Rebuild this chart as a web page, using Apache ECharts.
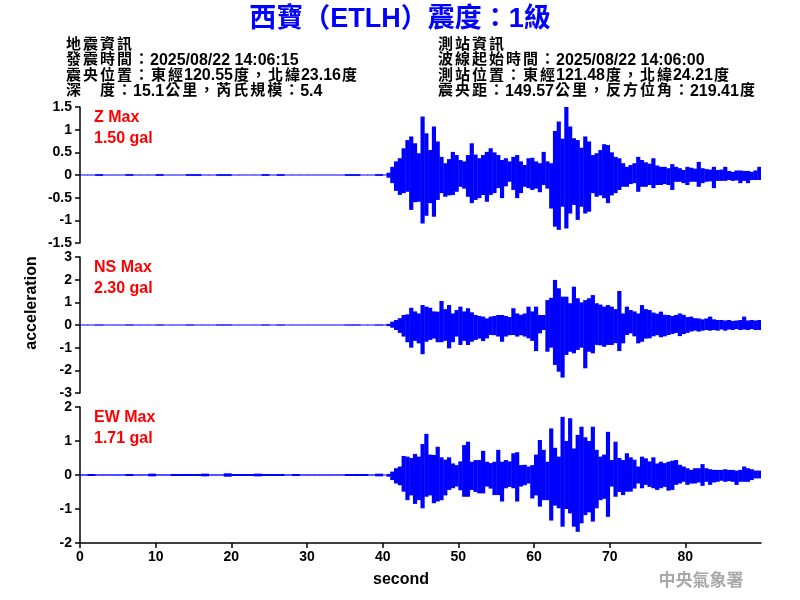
<!DOCTYPE html>
<html>
<head>
<meta charset="utf-8">
<script src="https://cdn.jsdelivr.net/npm/echarts@6/dist/echarts.min.js"></script>
<style>html,body{margin:0;padding:0;background:#fff}#c{width:800px;height:600px}</style>
</head>
<body>
<div id="c"></div>
<script>
// ---------- data ----------
const xTicks = [0, 10, 20, 30, 40, 50, 60, 70, 80];
const channelNames = ['Z Max', 'NS Max', 'EW Max'];
const channelPeaks = ['1.50 gal', '2.30 gal', '1.71 gal'];
const yRanges = [[-1.5, 1.5, 0.5], [-3, 3, 1], [-2, 2, 1]];

// pre-event noise amplitude, one value per second (0..39 s)
const zQuiet = [0.01,0.01,0.02,0.01,0.01,0.01,0.02,0.01,0.01,0.01,0.02,0.01,0.01,0.01,0.02,0.02,0.01,0.01,0.02,0.02,0.01,0.01,0.01,0.01,0.02,0.01,0.02,0.01,0.01,0.01,0.01,0.01,0.01,0.01,0.01,0.02,0.02,0.01,0.01,0.02];
const nsQuiet = [0.02,0.02,0.03,0.02,0.02,0.02,0.03,0.02,0.02,0.02,0.03,0.02,0.02,0.02,0.03,0.02,0.02,0.02,0.03,0.03,0.02,0.02,0.02,0.02,0.03,0.02,0.03,0.02,0.02,0.02,0.02,0.02,0.02,0.02,0.02,0.03,0.03,0.02,0.02,0.03];
const ewQuiet = [0.02,0.03,0.02,0.02,0.02,0.02,0.03,0.02,0.02,0.04,0.02,0.02,0.03,0.03,0.03,0.03,0.04,0.02,0.02,0.05,0.03,0.03,0.03,0.04,0.03,0.03,0.03,0.02,0.03,0.02,0.02,0.02,0.02,0.02,0.02,0.03,0.03,0.03,0.02,0.04];

// event: per 0.5 s bin from 40.0 s, positive and negative peaks
const eventStart = 40;
const binSec = 0.5;
const zUp = [0.01,0.05,0.18,0.30,0.37,0.59,0.77,0.85,0.70,0.48,
  1.29,0.92,0.55,1.07,0.74,0.40,0.26,0.35,0.51,0.44,
  0.33,0.30,0.44,0.70,0.45,0.37,0.44,0.51,0.59,0.50,
  0.44,0.33,0.37,0.30,0.40,0.44,0.30,0.22,0.37,0.38,
  0.30,0.26,0.51,0.30,0.26,0.97,1.18,0.80,1.51,1.07,
  0.81,0.77,0.60,0.85,0.74,0.44,0.48,0.55,0.68,0.66,
  0.50,0.40,0.37,0.26,0.18,0.22,0.26,0.40,0.33,0.28,
  0.25,0.37,0.21,0.18,0.18,0.15,0.24,0.18,0.15,0.11,
  0.18,0.16,0.14,0.29,0.15,0.13,0.12,0.18,0.11,0.12,
  0.18,0.09,0.07,0.10,0.10,0.09,0.09,0.07,0.10,0.18];
const zLo = [-0.01,-0.06,-0.18,-0.35,-0.44,-0.40,-0.37,-0.77,-0.60,-0.59,
  -1.07,-0.90,-0.62,-0.92,-0.55,-0.40,-0.48,-0.45,-0.44,-0.37,
  -0.26,-0.30,-0.48,-0.62,-0.55,-0.51,-0.44,-0.59,-0.44,-0.40,
  -0.29,-0.51,-0.25,-0.15,-0.33,-0.51,-0.40,-0.26,-0.29,-0.33,
  -0.30,-0.38,-0.22,-0.30,-0.74,-1.14,-1.21,-0.70,-1.18,-0.85,
  -0.66,-0.99,-0.70,-0.85,-0.81,-0.40,-0.48,-0.45,-0.51,-0.62,
  -0.45,-0.40,-0.33,-0.26,-0.26,-0.20,-0.18,-0.37,-0.26,-0.26,
  -0.22,-0.29,-0.22,-0.22,-0.20,-0.22,-0.33,-0.15,-0.15,-0.18,
  -0.22,-0.15,-0.15,-0.26,-0.18,-0.15,-0.14,-0.29,-0.13,-0.13,
  -0.13,-0.11,-0.13,-0.12,-0.18,-0.13,-0.18,-0.11,-0.11,-0.11];
const nsUp = [0.01,0.05,0.15,0.22,0.30,0.44,0.47,0.76,0.60,0.51,
  0.88,0.81,0.76,0.60,0.59,1.06,0.70,0.88,0.51,0.66,
  0.81,0.60,0.74,0.56,0.44,0.40,0.37,0.29,0.37,0.40,
  0.44,0.44,0.40,0.35,0.74,0.51,0.45,0.51,0.81,0.60,
  0.81,0.44,0.44,1.10,1.20,1.99,1.62,1.25,1.25,0.96,
  1.69,1.18,1.00,1.10,1.18,1.32,0.96,0.90,0.81,0.88,
  0.81,0.70,1.50,0.51,0.81,0.66,0.60,0.51,0.88,0.70,
  0.66,0.55,0.50,0.59,0.45,0.44,0.40,0.44,0.51,0.45,
  0.35,0.37,0.30,0.29,0.25,0.29,0.37,0.25,0.22,0.22,
  0.20,0.22,0.18,0.20,0.22,0.37,0.20,0.22,0.20,0.22];
const nsLo = [-0.01,-0.05,-0.12,-0.22,-0.35,-0.51,-0.76,-1.00,-0.70,-0.81,
  -1.29,-0.74,-0.66,-0.60,-0.76,-0.76,-0.70,-1.03,-0.76,-0.51,
  -0.88,-0.70,-0.88,-0.74,-0.66,-0.60,-0.71,-0.59,-0.44,-0.45,
  -0.51,-0.74,-0.51,-0.45,-0.44,-0.51,-0.45,-0.51,-0.59,-0.70,
  -1.15,-0.37,-0.22,-1.18,-1.00,-1.76,-2.06,-2.32,-1.32,-1.18,
  -1.25,-1.10,-1.00,-1.91,-1.18,-1.25,-0.88,-0.90,-0.96,-0.88,
  -0.88,-0.80,-1.15,-0.81,-0.44,-0.37,-0.50,-0.81,-0.74,-0.60,
  -0.59,-0.50,-0.45,-0.54,-0.50,-0.44,-0.40,-0.35,-0.49,-0.40,
  -0.35,-0.29,-0.25,-0.29,-0.25,-0.22,-0.25,-0.22,-0.25,-0.20,
  -0.25,-0.20,-0.22,-0.18,-0.22,-0.20,-0.22,-0.18,-0.22,-0.22];
const ewUp = [0.01,0.03,0.10,0.20,0.25,0.56,0.54,0.50,0.62,0.54,
  0.91,1.21,0.60,0.59,0.83,0.52,0.45,0.52,0.34,0.29,
  0.40,0.88,0.98,0.39,0.44,0.44,0.71,0.39,0.35,0.39,
  0.74,0.39,0.44,0.40,0.64,0.67,0.29,0.30,0.25,0.29,
  0.60,1.03,0.74,0.39,1.37,0.80,0.54,1.71,1.00,1.67,
  0.78,1.18,1.42,1.11,1.00,1.42,0.74,0.54,0.60,1.27,
  0.44,0.98,0.50,0.44,0.64,0.52,0.45,0.25,0.54,0.49,
  0.40,0.52,0.34,0.39,0.35,0.39,0.42,0.44,0.30,0.25,
  0.20,0.15,0.20,0.20,0.32,0.20,0.17,0.15,0.15,0.15,
  0.17,0.15,0.15,0.13,0.15,0.25,0.20,0.17,0.13,0.13];
const ewLo = [-0.01,-0.05,-0.15,-0.25,-0.30,-0.49,-0.74,-0.60,-0.85,-0.74,
  -0.98,-0.64,-0.60,-0.83,-0.78,-0.74,-0.60,-0.44,-0.39,-0.34,
  -0.45,-0.64,-0.64,-0.44,-0.50,-0.54,-0.54,-0.34,-0.40,-0.59,
  -0.59,-0.78,-0.39,-0.35,-0.39,-0.78,-0.34,-0.30,-0.25,-0.69,
  -0.60,-0.93,-0.74,-0.74,-1.34,-0.90,-0.98,-1.52,-1.00,-1.13,
  -1.52,-1.67,-1.42,-1.18,-1.10,-1.37,-0.98,-0.74,-0.70,-1.23,
  -0.34,-0.64,-0.50,-0.59,-0.49,-0.49,-0.40,-0.25,-0.39,-0.29,
  -0.35,-0.39,-0.44,-0.39,-0.35,-0.46,-0.44,-0.29,-0.25,-0.20,
  -0.29,-0.25,-0.25,-0.22,-0.32,-0.20,-0.29,-0.22,-0.20,-0.17,
  -0.20,-0.18,-0.20,-0.29,-0.20,-0.20,-0.20,-0.15,-0.10,-0.10];

const titleText = '西寶（ETLH）震度：1級';
const quakeInfo = ['地震資訊', '發震時間：2025/08/22 14:06:15', '震央位置：東經120.55度，北緯23.16度', '深　度：15.1公里，芮氏規模：5.4'];
const stationInfo = ['測站資訊', '波線起始時間：2025/08/22 14:06:00', '測站位置：東經121.48度，北緯24.21度', '震央距：149.57公里，反方位角：219.41度'];

// ---------- build: each bin = [tStart, tEnd, max, min] ----------
function bins(quiet, up, lo) {
  const d = [];
  quiet.forEach((q, i) => d.push([i, i + 1, q, -q]));
  up.forEach((u, i) => {
    const t = eventStart + i * binSec;
    d.push([t, t + binSec, u, lo[i]]);
  });
  return d;
}
const traces = [bins(zQuiet, zUp, zLo), bins(nsQuiet, nsUp, nsLo), bins(ewQuiet, ewUp, ewLo)];

function renderBin(params, api) {
  const a = api.coord([api.value(0), api.value(2)]);
  const b = api.coord([api.value(1), api.value(3)]);
  const h = Math.max(1, b[1] - a[1]);
  const y = h === 1 ? (a[1] + b[1]) / 2 - 0.5 : a[1];
  return {
    type: 'rect',
    shape: { x: a[0], y: y, width: b[0] - a[0] + 0.4, height: h },
    style: { fill: '#0000ff' }
  };
}

// rich text: CJK chars slightly smaller with a little side padding, Latin runs at 16px
function toRich(s) {
  let out = '', run = '';
  const flush = () => { if (run) { out += '{l|' + run + '}'; run = ''; } };
  for (const ch of s) {
    if (ch.charCodeAt(0) > 0x2e80) { flush(); out += '{c|' + ch + '}'; }
    else run += ch;
  }
  flush();
  return out;
}
function infoRich(color) {
  return {
    c: { fontFamily: '"Noto Sans CJK TC", sans-serif', fontWeight: 'bold', fontSize: 15, color: color, padding: [0, 1, 4, 1], lineHeight: 16, verticalAlign: 'middle' },
    l: { fontFamily: '"Liberation Sans", sans-serif', fontWeight: 'bold', fontSize: 16, color: color, lineHeight: 16, verticalAlign: 'middle' }
  };
}

const FONT = '"Liberation Sans", "Noto Sans CJK TC", sans-serif';
const tops = [107, 257, 407];
const grids = tops.map(t => ({ left: 80, right: 39, top: t, height: 136 }));
const xAxes = tops.map((t, i) => ({
  type: 'value', gridIndex: i, min: 0, max: 90, interval: 10,
  show: i === 2,
  axisLine: { show: true, onZero: false, lineStyle: { color: '#000', width: 1.5 } },
  axisTick: { show: true, length: 5, customValues: xTicks, lineStyle: { color: '#000', width: 1.5 } },
  axisLabel: { show: true, customValues: xTicks, color: '#000', fontFamily: FONT, fontWeight: 'bold', fontSize: 14, margin: 7 },
  splitLine: { show: false }
}));
const yAxes = yRanges.map((r, i) => ({
  type: 'value', gridIndex: i, min: r[0], max: r[1], interval: r[2],
  axisLine: { show: true, lineStyle: { color: '#000', width: 1.5 } },
  axisTick: { show: true, length: 5, lineStyle: { color: '#000', width: 1.5 } },
  axisLabel: { color: '#000', fontFamily: FONT, fontWeight: 'bold', fontSize: 14, margin: 8 },
  splitLine: { show: false }
}));
const series = traces.map((d, i) => ({
  type: 'custom', xAxisIndex: i, yAxisIndex: i, data: d,
  renderItem: renderBin, silent: true, clip: true,
  encode: { x: [0, 1], y: [2, 3] }
}));

const graphic = [];
graphic.push({ type: 'text', left: 'center', top: 6, style: { text: titleText, fill: '#0000ff', font: 'bold 27px ' + FONT } });
quakeInfo.forEach((s, i) => graphic.push({ type: 'text', x: 65, y: 45 + i * 15.4, style: { text: toRich(s), rich: infoRich('#000'), textVerticalAlign: 'middle' } }));
stationInfo.forEach((s, i) => graphic.push({ type: 'text', x: 437, y: 45 + i * 15.4, style: { text: toRich(s), rich: infoRich('#0000ff'), textVerticalAlign: 'middle' } }));
tops.forEach((t, i) => {
  graphic.push({ type: 'text', x: 94, y: t + 11, style: { text: channelNames[i], fill: '#ff0000', font: 'bold 16px ' + FONT, textVerticalAlign: 'middle' } });
  graphic.push({ type: 'text', x: 94, y: t + 32, style: { text: channelPeaks[i], fill: '#ff0000', font: 'bold 16px ' + FONT, textVerticalAlign: 'middle' } });
});
graphic.push({ type: 'text', x: 32, y: 303, rotation: Math.PI / 2, style: { text: 'acceleration', fill: '#000', font: 'bold 16px ' + FONT, textAlign: 'center', textVerticalAlign: 'middle' } });
graphic.push({ type: 'text', x: 401, y: 580, style: { text: 'second', fill: '#000', font: 'bold 16px ' + FONT, textAlign: 'center', textVerticalAlign: 'middle' } });
graphic.push({ type: 'text', x: 701, y: 580, style: { text: '中央氣象署', fill: '#a8a8a8', font: 'bold 17px "Noto Sans CJK TC", sans-serif', textAlign: 'center', textVerticalAlign: 'middle' } });

const chart = echarts.init(document.getElementById('c'), null, { renderer: 'canvas' });
chart.setOption({
  animation: false,
  backgroundColor: '#fff',
  grid: grids, xAxis: xAxes, yAxis: yAxes, series: series, graphic: graphic
});
</script>
</body>
</html>
